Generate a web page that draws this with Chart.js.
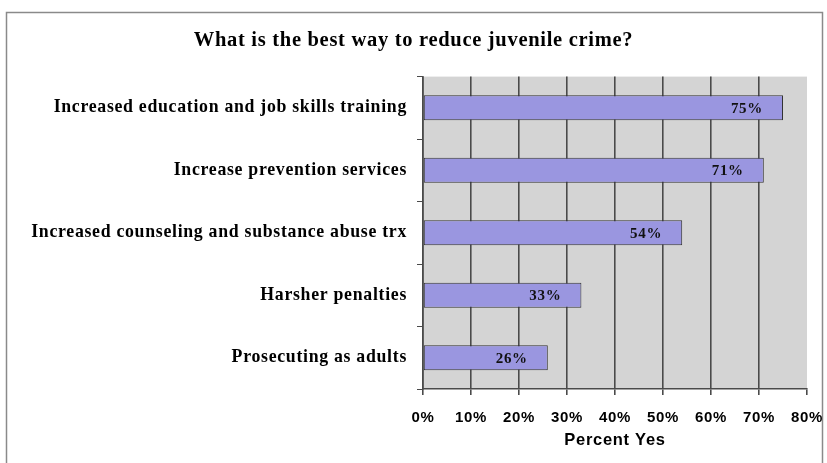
<!DOCTYPE html>
<html>
<head>
<meta charset="utf-8">
<script src="https://cdn.jsdelivr.net/npm/chart.js@4/dist/chart.umd.min.js"></script>
<style>
  html, body { margin: 0; padding: 0; background: #fff; }
  #wrap { width: 827px; height: 463px; }
</style>
</head>
<body>
<div id="wrap"><canvas id="crime" width="827" height="463"></canvas></div>
<script>
var categories = [
  "Increased education and job skills training",
  "Increase prevention services",
  "Increased counseling and substance abuse trx",
  "Harsher penalties",
  "Prosecuting as adults"
];
var percentYes = [75, 71, 54, 33, 26];
var xTicks = [0, 10, 20, 30, 40, 50, 60, 70, 80];

// grey plot background + outer frame; a little letter spacing for all text
var frame = {
  id: "frame",
  beforeDraw: function (chart) {
    var ctx = chart.ctx, a = chart.chartArea;
    ctx.fillStyle = "#fff";
    ctx.fillRect(0, 0, chart.width, chart.height);
    ctx.strokeStyle = "#8a8a8a";
    ctx.lineWidth = 1.5;
    ctx.strokeRect(6.5, 12.5, 816, 470);
    ctx.fillStyle = "#d4d4d4";
    ctx.fillRect(a.left, a.top, a.right - a.left, a.bottom - a.top);
    ctx.letterSpacing = "0.7px";
  }
};

// value labels near the end of each bar
var barLabels = {
  id: "barLabels",
  afterDatasetsDraw: function (chart) {
    var ctx = chart.ctx;
    var meta = chart.getDatasetMeta(0);
    ctx.save();
    ctx.font = "bold 15px 'Liberation Serif', serif";
    ctx.fillStyle = "#111";
    ctx.textAlign = "right";
    ctx.textBaseline = "middle";
    meta.data.forEach(function (bar, i) {
      ctx.fillText(percentYes[i] + "%", bar.x - 20, bar.y + 1);
    });
    ctx.restore();
  }
};

new Chart("crime", {
  type: "bar",
  data: {
    labels: categories,
    datasets: [{
      data: percentYes,
      backgroundColor: "#9a96e0",
      borderColor: "#333",
      borderWidth: 1,
      borderSkipped: false,
      categoryPercentage: 0.8,
      barPercentage: 0.5
    }]
  },
  options: {
    indexAxis: "y",
    responsive: false,
    animation: false,
    layout: { padding: { left: 20, right: 20, top: 0, bottom: 0 } },
    plugins: {
      legend: { display: false },
      tooltip: { enabled: false },
      title: {
        display: true,
        text: "What is the best way to reduce juvenile crime?",
        color: "#000",
        font: { family: "'Liberation Serif', serif", size: 20.5, weight: "bold" },
        padding: { top: 28, bottom: 24 }
      }
    },
    scales: {
      x: {
        min: 0,
        max: 80,
        afterBuildTicks: function (scale) {
          scale.ticks = xTicks.map(function (v) { return { value: v }; });
        },
        afterFit: function (scale) {
          scale.height = 74;
          scale.paddingLeft = 0;
          scale.paddingRight = 0;
        },
        grid: {
          color: function (c) { return c.index === 8 ? "rgba(0,0,0,0)" : "#4a4a4a"; },
          lineWidth: 1.6,
          tickColor: "#4a4a4a",
          tickLength: 6
        },
        border: { color: "#4a4a4a", width: 1.6 },
        ticks: {
          color: "#000",
          padding: 14,
          font: { family: "'Liberation Sans', Arial, sans-serif", size: 15, weight: "bold" },
          callback: function (v) { return v + "%"; }
        },
        title: {
          display: true,
          text: "Percent Yes",
          color: "#000",
          font: { family: "'Liberation Sans', Arial, sans-serif", size: 16.5, weight: "bold" },
          padding: { top: 4, bottom: 13 }
        }
      },
      y: {
        afterFit: function (scale) { scale.width = 403; },
        grid: {
          drawOnChartArea: false,
          color: "#4a4a4a",
          tickLength: 6,
          offset: true
        },
        border: { color: "#4a4a4a", width: 1.6 },
        ticks: {
          color: "#000",
          padding: 10,
          font: { family: "'Liberation Serif', serif", size: 17.8, weight: "bold" }
        }
      }
    }
  },
  plugins: [frame, barLabels]
});
</script>
</body>
</html>
